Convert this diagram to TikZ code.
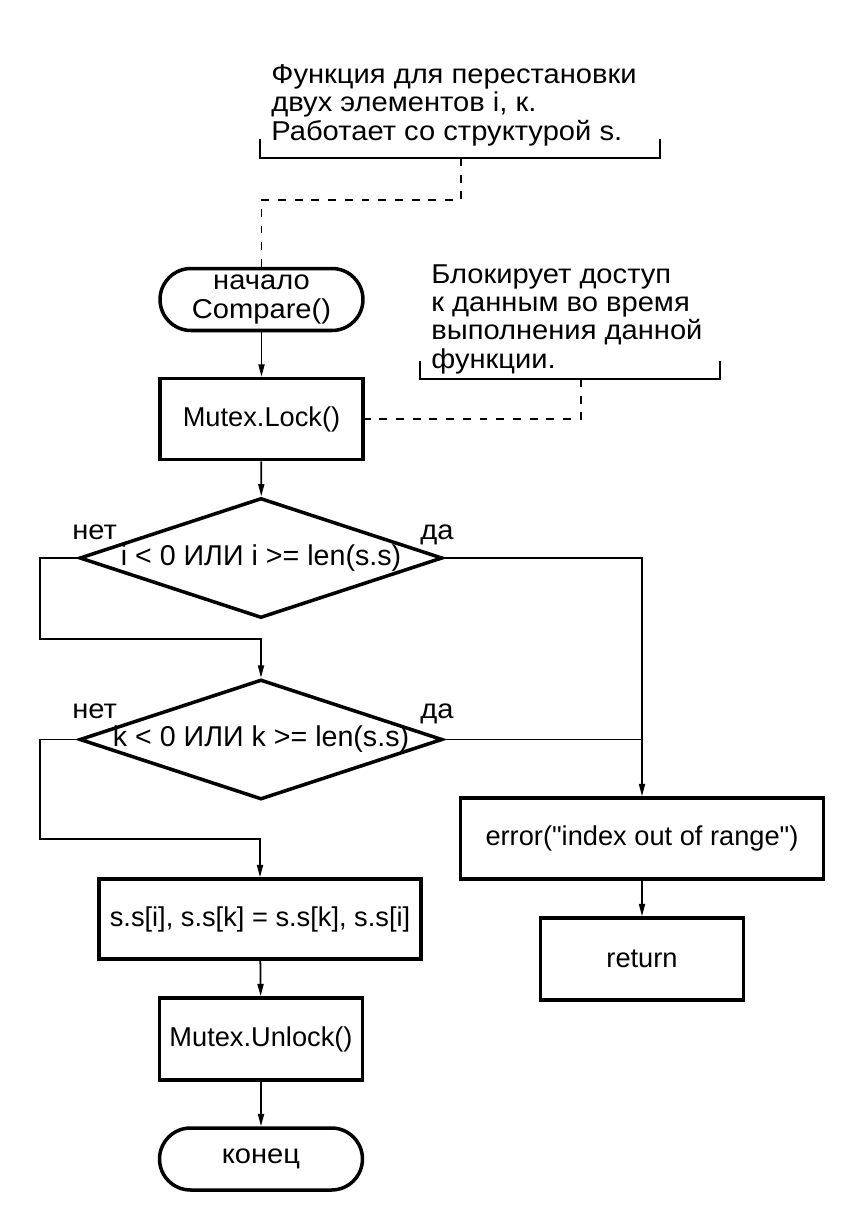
\documentclass[tikz,border=0pt]{standalone}
\usepackage{fontspec}
\setmainfont{Liberation Sans}
\newfontfamily\cyrwide{Liberation Sans}[FakeStretch=1.07]
\usetikzlibrary{shapes.geometric,arrows.meta}

\begin{document}
\begin{tikzpicture}[x=0.02cm, y=-0.02cm, font=\fontsize{15.5}{16}\selectfont,
    >={Triangle[length=7pt,width=3.4pt]},
    blk/.style={draw, line width=2pt, minimum width=4.06cm, minimum height=1.64cm, inner sep=1pt},
    term/.style={blk, rounded corners=0.62cm, minimum height=1.24cm, font=\fontsize{15.5}{16}\cyrwide},
    cond/.style={draw, diamond, line width=2pt, minimum width=7.26cm, minimum height=2.4cm, inner sep=0pt,
                 font=\fontsize{16.3}{16}\selectfont},
    flow/.style={line width=1pt},
    note/.style={align=left, anchor=base west, inner sep=0pt, font=\fontsize{15.5}{16}\cyrwide},
    notebar/.style={line width=1pt},
    link/.style={line width=1pt, dash pattern=on 4.5pt off 5pt}]

    \useasboundingbox (0,0) rectangle (860,1230);

    % ---- main column
    \node[term, align=center] (start) at (261.5,299.5) {начало\\Compare()};
    \node[blk, minimum height=1.62cm] (lock) at (261.5,419) {Mutex.Lock()};
    \node[cond] (c1) at (261,558) {\makebox[0pt]{i < 0 ИЛИ i >= len(s.s)}};
    \node[cond] (c2) at (261,739.5) {\makebox[0pt]{k < 0 ИЛИ k >= len(s.s)}};
    \node[blk, minimum width=6.44cm, minimum height=1.6cm] (swap) at (260,919) {s.s[i], s.s[k] = s.s[k], s.s[i]};
    \node[blk] (unlock) at (261,1039) {Mutex.Unlock()};
    \node[term] (stop) at (261,1159) {конец};

    % ---- error branch
    \node[blk, minimum width=7.26cm, minimum height=1.62cm] (err) at (642,838.5)
      {error(\textquotedbl index out of range\textquotedbl)};
    \node[blk] (ret) at (642,959) {return};

    % ---- yes / no
    \foreach \n/\y in {1/539, 2/718} {
      \node[anchor=base west, inner sep=0pt, font=\fontsize{15.5}{16}\cyrwide] (no\n) at (72,\y) {нет};
      \node[anchor=base west, inner sep=0pt, font=\fontsize{15.5}{16}\cyrwide] (yes\n) at (420,\y) {да};
    }

    % ---- flow
    \coordinate (j1) at (40,639);
    \coordinate (j2) at (40,839);
    \draw[flow, ->] (start) -- (lock);
    \draw[flow, ->] (lock) -- (c1);
    \draw[flow, ->] (c1.west) -| (j1) -| (c2.north);
    \draw[flow, ->] (c2.west) -| (j2) -| (swap.north);
    \draw[flow, ->] (c1.east) -| (err.north);
    \draw[flow] (c2.east) -- (c2.east -| err.north);
    \draw[flow, ->] (swap) -- (unlock);
    \draw[flow, ->] (unlock) -- (stop);
    \draw[flow, ->] (err) -- (ret);

    % ---- comments
    \node[note] (n1) at (271,140) {Функция для перестановки\\двух элементов i, к.\\Работает со структурой s.};
    \draw[notebar] (260,139) -- (260,158) -- (660,158) -- (660,139);
    \coordinate (n1b) at (461,158);
    \draw[link] (n1b) -- ++(0,42) -| (start.north);

    \node[note] (n2) at (431,368) {Блокирует доступ\\к данным во время\\выполнения данной\\функции.};
    \draw[notebar] (420,361) -- (420,379) -- (720,379) -- (720,361);
    \coordinate (n2b) at (581,379);
    \draw[link] (n2b) |- (lock.east);
  \end{tikzpicture}
\end{document}
